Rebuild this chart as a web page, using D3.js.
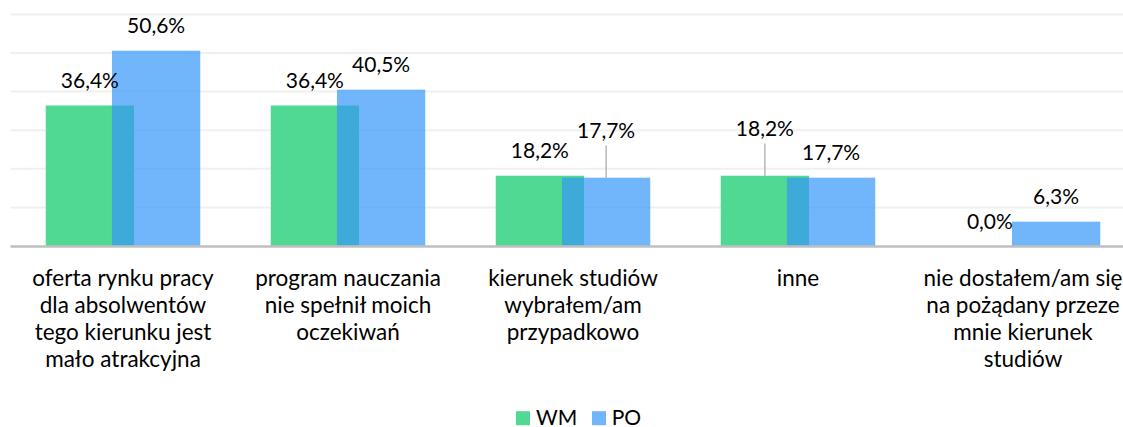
<!DOCTYPE html>
<html>
<head>
<meta charset="utf-8">
<script src="https://cdn.jsdelivr.net/npm/d3@7"></script>
<style>
  html, body { margin: 0; padding: 0; background: #fff; overflow: hidden; }
  svg { display: block; }
  text { font-family: Lato, "Noto Sans", sans-serif; fill: #000; }
</style>
</head>
<body>
<svg id="chart" width="1123" height="427"></svg>
<script>
// ---- data ----
const categories = [
  ["oferta rynku pracy", "dla absolwentów", "tego kierunku jest", "mało atrakcyjna"],
  ["program nauczania", "nie spełnił moich", "oczekiwań"],
  ["kierunek studiów", "wybrałem/am", "przypadkowo"],
  ["inne"],
  ["nie dostałem/am się", "na pożądany przeze", "mnie kierunek", "studiów"]
];
const seriesNames = ["WM", "PO"];
const valuesWM = [36.4, 36.4, 18.2, 18.2, 0.0];
const valuesPO = [50.6, 40.5, 17.7, 17.7, 6.3];
const yTicks = [0, 10, 20, 30, 40, 50, 60];

// ---- layout / style ----
const colors = { WM: "#50d992", PO: "rgb(54,150,248)" };
const poOpacity = 0.705;
const svg = d3.select("#chart");
const baseY = 246, topY = 14.4;
const x0 = d3.scaleBand().domain(d3.range(categories.length)).range([10.5, 1135.5]).paddingInner(0).paddingOuter(0);
const y = d3.scaleLinear().domain([0, 60]).range([baseY, topY]);
const barW = x0.bandwidth() * 0.3924;
const overlap = barW * 0.25;
const groupW = 2 * barW - overlap;
const barLeft = (i, s) => x0(i) + x0.bandwidth() / 2 - groupW / 2 + s * (barW - overlap);

// gridlines
svg.append("g").selectAll("line").data(yTicks.filter(d => d > 0)).join("line")
  .attr("x1", x0.range()[0]).attr("x2", x0.range()[1])
  .attr("y1", d => y(d)).attr("y2", d => y(d))
  .attr("stroke", "#f0f0f0").attr("stroke-width", 2);

const series = [
  { name: "WM", values: valuesWM, s: 0 },
  { name: "PO", values: valuesPO, s: 1 }
];

series.forEach(ser => {
  svg.append("g").selectAll("rect").data(ser.values).join("rect")
    .attr("x", (d, i) => barLeft(i, ser.s))
    .attr("width", barW)
    .attr("y", d => y(d))
    .attr("height", d => baseY - y(d))
    .attr("fill", colors[ser.name])
    .attr("fill-opacity", ser.name === "PO" ? poOpacity : 1);
});

// baseline axis
svg.append("line")
  .attr("x1", x0.range()[0]).attr("x2", x0.range()[1])
  .attr("y1", baseY + 0.5).attr("y2", baseY + 0.5)
  .attr("stroke", "#bfbfbf").attr("stroke-width", 2.5);

// data labels
const fmt = v => v.toFixed(1).replace(".", ",") + "%";
const raised = { "WM-3": 22, "PO-2": 22 }; // labels moved up with leader lines
series.forEach(ser => {
  ser.values.forEach((v, i) => {
    const cx = barLeft(i, ser.s) + barW / 2;
    const lift = raised[ser.name + "-" + i] || 0;
    const base = y(v) - 17.3 - lift;
    if (lift) {
      svg.append("line")
        .attr("x1", cx).attr("x2", cx)
        .attr("y1", base + 7).attr("y2", y(v))
        .attr("stroke", "#a6a6a6").attr("stroke-width", 1.2);
    }
    svg.append("text")
      .attr("x", cx).attr("y", base)
      .attr("text-anchor", "middle")
      .attr("font-size", 21)
      .text(fmt(v));
  });
});

// category labels
categories.forEach((lines, i) => {
  const t = svg.append("text")
    .attr("text-anchor", "middle")
    .attr("font-size", 22.5);
  lines.forEach((ln, k) => {
    t.append("tspan")
      .attr("x", x0(i) + x0.bandwidth() / 2)
      .attr("y", 285.5 + k * 27.2)
      .text(ln);
  });
});

// legend
const legendItems = [
  { name: "WM", sx: 516, tx: 536 },
  { name: "PO", sx: 592, tx: 611.7 }
];
const lg = svg.append("g");
legendItems.forEach(it => {
  lg.append("rect").attr("x", it.sx).attr("y", 411.2).attr("width", 14).attr("height", 14)
    .attr("fill", colors[it.name]).attr("fill-opacity", it.name === "PO" ? poOpacity : 1);
  lg.append("text").attr("x", it.tx).attr("y", 424.5).attr("font-size", 21).text(it.name);
});
</script>
</body>
</html>
